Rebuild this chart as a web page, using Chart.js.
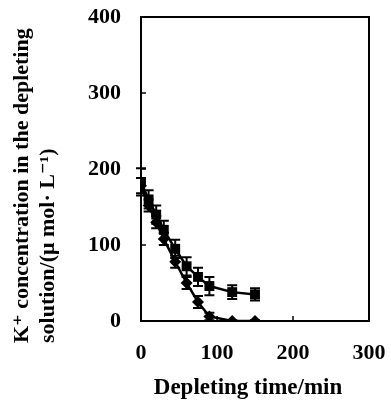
<!DOCTYPE html>
<html>
<head>
<meta charset="utf-8">
<script src="https://cdn.jsdelivr.net/npm/chart.js@4/dist/chart.umd.min.js"></script>
<style>
  html, body { margin: 0; padding: 0; background: #fff; }
  #wrap { width: 391px; height: 400px; }
</style>
</head>
<body>
<div id="wrap"><canvas id="chart" width="391" height="400"></canvas></div>
<script>
// depleting time (min)
const times = [0, 10, 20, 30, 45, 60, 75, 90, 120, 150];
// K+ concentration, upper curve (squares) and lower curve (diamonds)
const squareVals = [183, 160, 140, 120, 95, 72, 58, 46, 38, 35];
const squareErr  = [18, 12, 12, 12, 12, 12, 12, 12, 9, 8];
const diamondVals = [178, 152, 130, 108, 78, 50, 25, 6, 0, 0];
const diamondErr  = [10, 8, 8, 8, 8, 8, 8, 5, 1, 1];
const xTicks = [0, 100, 200, 300];
const yTicks = [0, 100, 200, 300, 400];

const serif = '"Liberation Serif", "DejaVu Serif", serif';

const toPoints = vals => vals.map((v, i) => ({ x: times[i], y: v }));

// labels may hang over the plot edges without shrinking it
const noOverhang = s => {
    s.paddingLeft = 0;
    s.paddingRight = 0;
    s.paddingTop = 0;
    s.paddingBottom = 0;
};

const errorBars = {
    id: 'errorBars',
    afterDatasetsDraw(chart) {
        const { ctx, scales: { y } } = chart;
        const errs = [squareErr, diamondErr];
        ctx.save();
        ctx.strokeStyle = '#000';
        ctx.lineWidth = 2;
        chart.data.datasets.forEach((ds, di) => {
            const meta = chart.getDatasetMeta(di);
            meta.data.forEach((pt, i) => {
                const v = ds.data[i].y;
                const e = errs[di][i];
                const top = y.getPixelForValue(v + e);
                const bot = y.getPixelForValue(Math.max(0, v - e));
                ctx.beginPath();
                ctx.moveTo(pt.x, top);
                ctx.lineTo(pt.x, bot);
                ctx.moveTo(pt.x - 5, top);
                ctx.lineTo(pt.x + 5, top);
                ctx.moveTo(pt.x - 5, bot);
                ctx.lineTo(pt.x + 5, bot);
                ctx.stroke();
            });
        });
        ctx.restore();
    }
};

const frame = {
    id: 'frame',
    afterDraw(chart) {
        const { ctx, chartArea: a, scales: { x, y } } = chart;
        ctx.save();
        ctx.strokeStyle = '#000';
        ctx.lineWidth = 2;
        ctx.strokeRect(a.left, a.top, a.right - a.left, a.bottom - a.top);
        // inward tick marks
        ctx.lineWidth = 1.5;
        ctx.beginPath();
        yTicks.forEach(t => {
            const py = y.getPixelForValue(t);
            ctx.moveTo(a.left, py);
            ctx.lineTo(a.left + 5, py);
        });
        xTicks.forEach(t => {
            const px = x.getPixelForValue(t);
            ctx.moveTo(px, a.bottom);
            ctx.lineTo(px, a.bottom - 5);
        });
        ctx.stroke();

        // axis titles
        ctx.fillStyle = '#000';
        ctx.font = 'bold 23px ' + serif;
        ctx.textAlign = 'center';
        ctx.textBaseline = 'middle';
        ctx.fillText('Depleting time/min', 248, 388);

        ctx.translate(0, 343);
        ctx.rotate(-Math.PI / 2);
        ctx.font = 'bold 22px ' + serif;
        ctx.textAlign = 'left';
        ctx.fillText('K\u207A concentration in the depleting', 0, 22);
        ctx.fillText('solution/(\u03BC mol\u00B7 L\u207B\u00B9)', 0, 48);
        ctx.restore();
    }
};

new Chart(document.getElementById('chart'), {
    type: 'line',
    data: {
        datasets: [
            {
                label: 'squares',
                data: toPoints(squareVals),
                borderColor: '#000',
                backgroundColor: '#000',
                borderWidth: 2.5,
                pointStyle: 'rect',
                pointRadius: 7,
                pointBorderWidth: 0
            },
            {
                label: 'diamonds',
                data: toPoints(diamondVals),
                borderColor: '#000',
                backgroundColor: '#000',
                borderWidth: 2.5,
                pointStyle: 'rectRot',
                pointRadius: 6,
                pointBorderWidth: 0
            }
        ]
    },
    options: {
        responsive: false,
        animation: false,
        layout: { padding: { top: 17, right: 22, left: 0, bottom: 0 } },
        plugins: {
            legend: { display: false },
            tooltip: { enabled: false }
        },
        scales: {
            x: {
                type: 'linear',
                min: 0,
                max: 300,
                afterBuildTicks: s => { s.ticks = xTicks.map(v => ({ value: v })); },
                afterFit: s => { s.height = 79; noOverhang(s); },
                grid: { display: false, drawTicks: false },
                border: { display: false },
                ticks: {
                    color: '#000',
                    padding: 19,
                    maxRotation: 0,
                    font: { family: serif, size: 22, weight: 'bold' }
                }
            },
            y: {
                min: 0,
                max: 400,
                afterBuildTicks: s => { s.ticks = yTicks.map(v => ({ value: v })); },
                afterFit: s => { s.width = 141; noOverhang(s); },
                grid: { display: false, drawTicks: false },
                border: { display: false },
                ticks: {
                    color: '#000',
                    padding: 20,
                    font: { family: serif, size: 22, weight: 'bold' }
                }
            }
        }
    },
    plugins: [errorBars, frame]
});
</script>
</body>
</html>
